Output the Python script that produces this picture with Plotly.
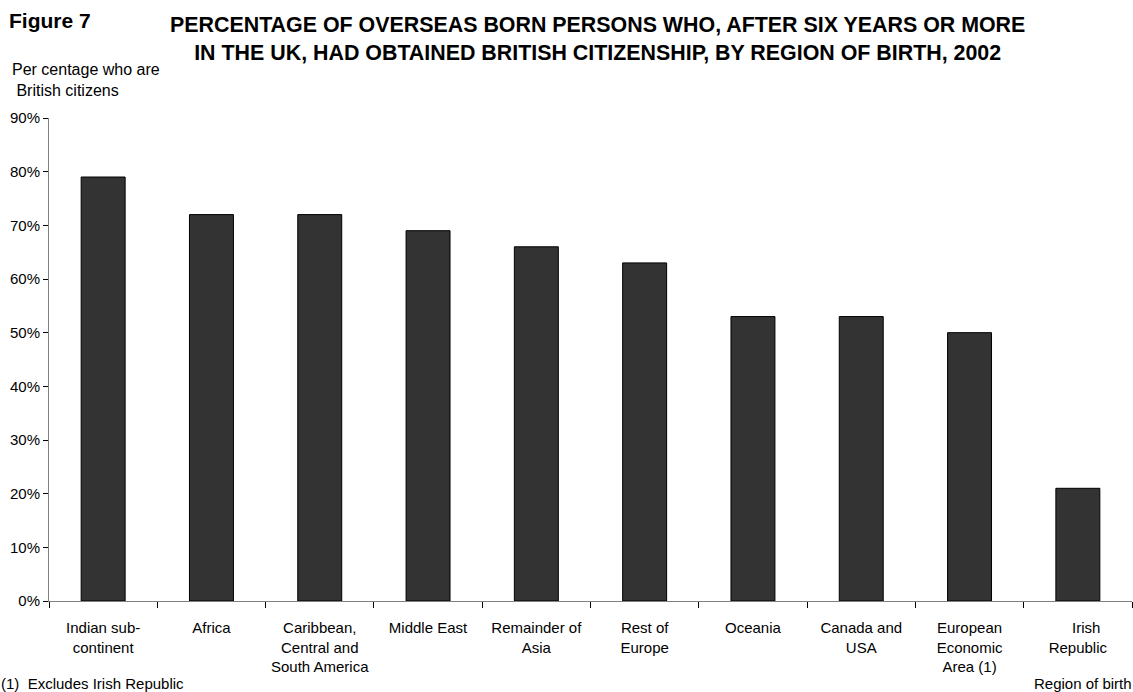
import plotly.graph_objects as go

categories = ["Indian sub-<br>continent", "Africa", "Caribbean,<br>Central and<br>South America",
              "Middle East", "Remainder of<br>Asia", "Rest of<br>Europe", "Oceania",
              "Canada and<br>USA", "European<br>Economic<br>Area (1)",
              "\u00a0\u00a0\u00a0\u00a0Irish<br>Republic"]
values = [0.79, 0.72, 0.72, 0.69, 0.66, 0.63, 0.53, 0.53, 0.50, 0.21]
y_ticks = [0, 0.1, 0.2, 0.3, 0.4, 0.5, 0.6, 0.7, 0.8, 0.9]

FONT = "Liberation Sans, Arial, sans-serif"
L, R, T, B = 49, 1, 118, 91
W, H = 1133, 692
PW, PH = W - L - R, H - T - B


def px(x):
    return (x - L) / PW


def py(y):
    return (H - B - y) / PH


fig = go.Figure(go.Bar(
    x=categories, y=values,
    marker=dict(color="#333333", line=dict(color="#000000", width=1)),
    hoverinfo="skip",
))

fig.update_layout(
    width=W, height=H,
    margin=dict(l=L, r=R, t=T, b=B),
    paper_bgcolor="white", plot_bgcolor="white",
    bargap=0.594,
    showlegend=False,
    font=dict(family=FONT, size=15, color="black"),
)

fig.update_xaxes(
    type="category", automargin=False,
    showline=True, linecolor="#808080", linewidth=1,
    ticks="outside", tickson="boundaries", ticklen=6, tickcolor="#000000",
    showgrid=False, zeroline=False,
    tickfont=dict(family=FONT, size=15, color="black"),
    ticklabelstandoff=13,
)
fig.update_yaxes(
    range=[0, 0.9], tickvals=y_ticks, tickformat=".0%", automargin=False,
    showline=True, linecolor="#808080", linewidth=1,
    ticks="outside", ticklen=5, tickcolor="#000000",
    showgrid=False, zeroline=False,
    tickfont=dict(family=FONT, size=15, color="black"),
)

fig.add_annotation(text="<b>Figure 7</b>", xref="paper", yref="paper",
                   x=px(7), y=py(20), xanchor="left", yanchor="middle",
                   showarrow=False, font=dict(family=FONT, size=21, color="black"))
fig.add_annotation(text="<b>PERCENTAGE OF OVERSEAS BORN PERSONS WHO, AFTER SIX YEARS OR MORE<br>IN THE UK, HAD OBTAINED BRITISH CITIZENSHIP, BY REGION OF BIRTH, 2002</b>",
                   xref="paper", yref="paper", x=px(597), y=py(39), xanchor="center", yanchor="middle",
                   showarrow=False, align="center",
                   font=dict(family=FONT, size=21.4, color="black"))
fig.add_annotation(text="Per centage who are<br> British citizens", xref="paper", yref="paper",
                   x=px(10), y=py(80), xanchor="left", yanchor="middle", align="left",
                   showarrow=False, font=dict(family=FONT, size=16, color="black"))
fig.add_annotation(text="(1)  Excludes Irish Republic", xref="paper", yref="paper",
                   x=px(-1), y=py(683), xanchor="left", yanchor="middle", align="left",
                   showarrow=False, font=dict(family=FONT, size=15, color="black"))
fig.add_annotation(text="Region of birth", xref="paper", yref="paper",
                   x=px(1134), y=py(683), xanchor="right", yanchor="middle", align="right",
                   showarrow=False, font=dict(family=FONT, size=15, color="black"))

fig.write_html("out.html", config={"displayModeBar": False},
               post_script="document.body.style.margin='0';")
